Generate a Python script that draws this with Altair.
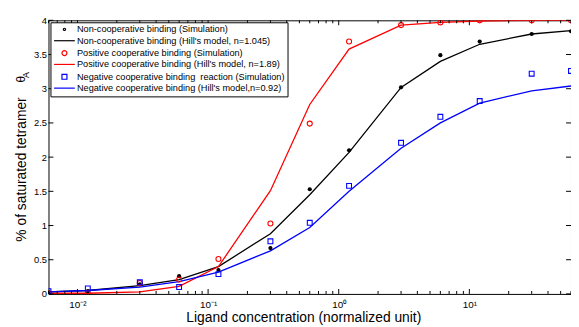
import altair as alt
import pandas as pd

# ---------------- data ----------------
conc = [0.006, 0.012, 0.03, 0.06, 0.12, 0.3, 0.6, 1.2, 3, 6, 12, 30, 60]

noncoop_sim = [0.03, 0.04, 0.14, 0.26, 0.35, 0.67, 1.53, 2.10, 3.02, 3.49, 3.69, 3.80, 3.84]
noncoop_hill = [0.03, 0.05, 0.12, 0.21, 0.40, 0.88, 1.45, 2.07, 3.02, 3.40, 3.65, 3.80, 3.85]
pos_sim = [0.01, 0.01, 0.16, 0.21, 0.51, 1.03, 2.49, 3.69, 3.93, 3.97, 4.00, 4.00, 4.00]
pos_hill = [0.01, 0.01, 0.03, 0.11, 0.40, 1.51, 2.77, 3.58, 3.93, 3.97, 3.99, 4.00, 4.00]
neg_sim = [0.04, 0.08, 0.17, 0.10, 0.29, 0.77, 1.04, 1.58, 2.21, 2.59, 2.82, 3.22, 3.26]
neg_hill = [0.03, 0.05, 0.10, 0.18, 0.32, 0.63, 0.97, 1.50, 2.13, 2.50, 2.79, 2.97, 3.04]

legend_labels = [
    "Non-cooperative binding (Simulation)",
    "Non-cooperative binding (Hill's model, n=1.045)",
    "Positive cooperative binding (Simulation)",
    "Positive cooperative binding (Hill's model, n=1.89)",
    "Negative cooperative binding\u00a0\u00a0reaction (Simulation)",
    "Negative cooperative binding (Hill's model,n=0.92)",
]
legend_colors = ["black", "black", "#ff0000", "#ff0000", "#0000ff", "#0000ff"]
LINE_PATH = "M-4.2,0L4.2,0"
DOT_PATH = "M-0.45,0A0.45,0.45 0 1,0 0.45,0A0.45,0.45 0 1,0 -0.45,0Z"
legend_shapes = [DOT_PATH, LINE_PATH, "circle", LINE_PATH, "square", LINE_PATH]

x_major = [0.01, 0.1, 1, 10]
x_minor = [0.006, 0.007, 0.008, 0.009,
           0.02, 0.03, 0.04, 0.05, 0.06, 0.07, 0.08, 0.09,
           0.2, 0.3, 0.4, 0.5, 0.6, 0.7, 0.8, 0.9,
           2, 3, 4, 5, 6, 7, 8, 9,
           20, 30, 40, 50, 60]
y_ticks = [0, 0.5, 1, 1.5, 2, 2.5, 3, 3.5, 4]

# ---------------- layout ----------------
W, H = 529, 277
FONT = "Liberation Sans"

xs = alt.Scale(type="log", domain=[0.006, 60], nice=False)
ys = alt.Scale(domain=[0, 4], nice=False)

x_axis = alt.Axis(
    values=x_major,
    labelExpr="datum.value < 0.05 ? '10\u207b\u00b2' : datum.value < 0.5 ? '10\u207b\u00b9' : datum.value < 5 ? '10\u2070' : '10\u00b9'",
    ticks=False, tickSize=0, domain=False, grid=False,
    labelFont=FONT, labelFontSize=10, labelColor="black",
    labelBaseline="alphabetic", labelPadding=13.5,
    title="Ligand concentration (normalized unit)",
    titleFont=FONT, titleFontSize=14, titleFontWeight="normal", titleColor="black",
    titleX=258, titleY=28, titleBaseline="alphabetic", titleAlign="center",
)
y_axis = alt.Axis(
    values=y_ticks,
    labelExpr="format(datum.value, '~g')",
    ticks=False, tickSize=0, domain=False, grid=False,
    labelFont=FONT, labelFontSize=9.5, labelColor="black", labelPadding=2,
    title="% of saturated tetramer",
    titleFont=FONT, titleFontSize=14, titleFontWeight="normal", titleColor="black",
    titleAngle=270, titleX=-23, titleY=150.5, titleBaseline="alphabetic", titleAlign="center",
)

def X(field):
    return alt.X(field, type="quantitative", scale=xs, axis=x_axis)

def Y(field):
    return alt.Y(field, type="quantitative", scale=ys, axis=y_axis)

lines_df = pd.concat([
    pd.DataFrame({"x": conc, "y": noncoop_hill, "s": legend_labels[1]}),
    pd.DataFrame({"x": conc, "y": pos_hill, "s": legend_labels[3]}),
    pd.DataFrame({"x": conc, "y": neg_hill, "s": legend_labels[5]}),
])

lines = alt.Chart(lines_df).mark_line(strokeWidth=1.3, clip=True).encode(
    x=X("x"), y=Y("y"),
    stroke=alt.Stroke("s:N", scale=alt.Scale(domain=[legend_labels[1], legend_labels[3], legend_labels[5]],
                                            range=["black", "#ff0000", "#0000ff"]), legend=None),
    detail="s:N",
)

def pts(vals, **mk):
    df = pd.DataFrame({"x": conc, "y": vals})
    return alt.Chart(df).mark_point(clip=True, **mk).encode(x=X("x"), y=Y("y"))

p_non = pts(noncoop_sim, shape="circle", filled=True, color="black", size=18, opacity=1)
p_pos = pts(pos_sim, shape="circle", filled=False, color="#ff0000", size=26, strokeWidth=1.1, opacity=1)
p_neg = pts(neg_sim, shape="square", filled=False, color="#0000ff", size=24, strokeWidth=1.1, opacity=1)

# inward tick marks (MATLAB style)
def xticks(vals, y0, y1):
    return alt.Chart(pd.DataFrame({"x": vals})).mark_rule(color="black", strokeWidth=1).encode(
        x=X("x"), y=alt.value(y0), y2=alt.value(y1))

def yticks(x0, x1):
    return alt.Chart(pd.DataFrame({"y": y_ticks})).mark_rule(color="black", strokeWidth=1).encode(
        y=Y("y"), x=alt.value(x0), x2=alt.value(x1))

tick_layers = [
    xticks(x_major, H, H - 5), xticks(x_minor, H, H - 3),
    xticks(x_major, 0, 5), xticks(x_minor, 0, 3),
    yticks(0, 5), yticks(W, W - 5),
]

# legend source (points placed outside the domain and clipped)
leg_df = pd.DataFrame({"x": [1.0] * 6, "y": [-1.0] * 6, "s": legend_labels})
leg_props = dict(
    title=None, orient="top-left", offset=2, padding=2.5,
    strokeColor="black", fillColor="white", cornerRadius=0,
    symbolSize=25, symbolStrokeWidth=1.2, symbolOpacity=1,
    symbolFillColor="transparent",
    labelFont=FONT, labelFontSize=9.3, labelColor="black", labelLimit=400,
    rowPadding=1.5, symbolOffset=7, labelOffset=8,
)
legend_layer = alt.Chart(leg_df).mark_point(clip=True, filled=False, opacity=1).encode(
    x=X("x"), y=Y("y"),
    shape=alt.Shape("s:N", scale=alt.Scale(domain=legend_labels, range=legend_shapes), legend=alt.Legend(**leg_props)),
    color=alt.Color("s:N", scale=alt.Scale(domain=legend_labels, range=legend_colors), legend=alt.Legend(**leg_props)),
)

theta = alt.Chart(pd.DataFrame({"t": ["\u03b8"]})).mark_text(
    font=FONT, fontSize=12, angle=270, align="center", baseline="alphabetic", color="black"
).encode(text="t:N", x=alt.value(-24), y=alt.value(59.5))
sub_a = alt.Chart(pd.DataFrame({"t": ["A"]})).mark_text(
    font=FONT, fontSize=9, angle=270, align="center", baseline="alphabetic", color="black"
).encode(text="t:N", x=alt.value(-19.5), y=alt.value(55.5))

chart = alt.layer(
    lines, p_non, p_pos, p_neg, *tick_layers, legend_layer, theta, sub_a
).properties(
    width=W, height=H,
    autosize=alt.AutoSizeParams(type="none"),
    padding={"left": 41, "top": 10.5, "right": 0, "bottom": 31},
    background="white",
).configure_view(stroke="black", strokeWidth=1)

chart.save("out.html", embed_options={"renderer": "svg", "actions": False})
